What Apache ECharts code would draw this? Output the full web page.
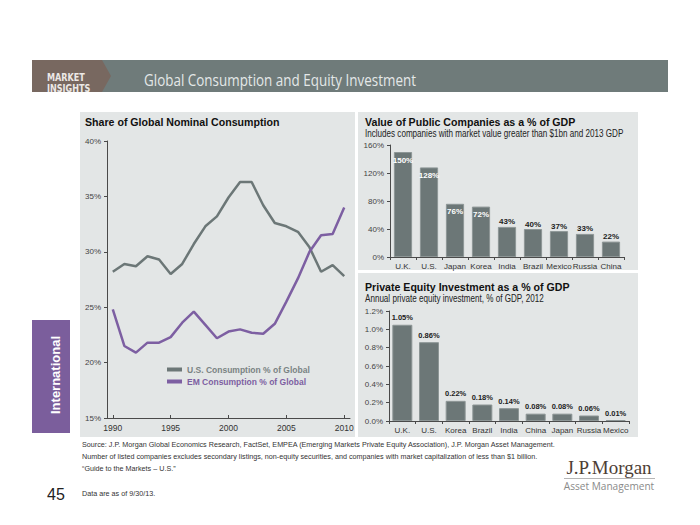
<!DOCTYPE html>
<html>
<head>
<meta charset="utf-8">
<style>
  html, body { margin: 0; padding: 0; background: #ffffff; }
  #chart { width: 700px; height: 525px; }
</style>
<script src="https://cdn.jsdelivr.net/npm/echarts@6/dist/echarts.min.js"></script>
</head>
<body>
<div id="chart"></div>
<script>
// ---- Data ----
const years = ['1990','1991','1992','1993','1994','1995','1996','1997','1998','1999','2000',
               '2001','2002','2003','2004','2005','2006','2007','2008','2009','2010'];
const usShare = [28.2, 28.9, 28.7, 29.6, 29.3, 28.0, 28.9, 30.7, 32.3, 33.2, 34.9,
                 36.3, 36.3, 34.2, 32.6, 32.3, 31.8, 30.4, 28.2, 28.8, 27.8];
const emShare = [24.8, 21.5, 20.9, 21.8, 21.8, 22.3, 23.6, 24.6, 23.4, 22.2, 22.8,
                 23.0, 22.7, 22.6, 23.5, 25.5, 27.6, 30.0, 31.5, 31.6, 34.0];
const usName = 'U.S. Consumption % of Global';
const emName = 'EM Consumption % of Global';

const publicCountries = ['U.K.','U.S.','Japan','Korea','India','Brazil','Mexico','Russia','China'];
const publicValues = [150, 128, 76, 72, 43, 40, 37, 33, 22];

const peCountries = ['U.K.','U.S.','Korea','Brazil','India','China','Japan','Russia','Mexico'];
const peValues = [1.05, 0.86, 0.22, 0.18, 0.14, 0.08, 0.08, 0.06, 0.01];

const footnotes = [
  'Source: J.P. Morgan Global Economics Research, FactSet, EMPEA (Emerging Markets Private Equity Association), J.P. Morgan Asset Management.',
  'Number of listed companies excludes secondary listings, non-equity securities, and companies with market capitalization of less than $1 billion.',
  '\u201cGuide to the Markets \u2013 U.S.\u201d'
];
const dataNote = 'Data are as of 9/30/13.';

// ---- Styles ----
const AR = '"Liberation Sans", Arial, Helvetica, sans-serif';
const GRAY = '#6c7777';
const PURPLE = '#7d5fa2';
const AXIS = '#4a4a4a';
const PANEL = '#e3e6e6';

function txt(x, y, text, font, fill, align, sx) {
  return {
    type: 'text', z: 5, x: x, y: y, scaleX: sx || 1,
    style: { x: 0, y: 0, text: text, font: font, fill: fill, align: align || 'left', verticalAlign: 'middle' }
  };
}

const chart = echarts.init(document.getElementById('chart'), null, { renderer: 'svg' });

const graphics = [
  // header band
  { type: 'rect', z: -20, shape: { x: 100, y: 60, width: 568, height: 32 }, style: { fill: '#6f7b7a' } },
  { type: 'polygon', z: -19, shape: { points: [[32,60],[102,60],[111,76],[102,92],[32,92]] }, style: { fill: '#786860' } },
  txt(47, 77, 'MARKET', 'bold 10px "DejaVu Sans Condensed", "Liberation Sans", sans-serif', '#ece8e6', 'left', 0.9),
  txt(47, 88, 'INSIGHTS', 'bold 10px "DejaVu Sans Condensed", "Liberation Sans", sans-serif', '#ece8e6', 'left', 0.9),
  txt(144, 80, 'Global Consumption and Equity Investment', '16px "Open Sans", "Noto Sans", sans-serif', '#e4e8e8', 'left', 0.84),
  // panels
  { type: 'rect', z: -20, shape: { x: 80, y: 112, width: 275, height: 325 }, style: { fill: PANEL } },
  { type: 'rect', z: -20, shape: { x: 358, y: 112, width: 280, height: 158 }, style: { fill: PANEL } },
  { type: 'rect', z: -20, shape: { x: 358, y: 273, width: 280, height: 164 }, style: { fill: PANEL } },
  // panel titles
  txt(85, 122, 'Share of Global Nominal Consumption', 'bold 11px ' + AR, '#111111', 'left', 0.965),
  txt(365, 122, 'Value of Public Companies as a % of GDP', 'bold 11px ' + AR, '#111111', 'left', 0.965),
  txt(365, 134, 'Includes companies with market value greater than $1bn and 2013 GDP', '10px ' + AR, '#222222', 'left', 0.81),
  txt(365, 287, 'Private Equity Investment as a % of GDP', 'bold 11px ' + AR, '#111111', 'left', 0.965),
  txt(365, 299, 'Annual private equity investment, % of GDP, 2012', '10px ' + AR, '#222222', 'left', 0.81),
  // side tab
  { type: 'rect', z: -20, shape: { x: 32, y: 320, width: 38, height: 113 }, style: { fill: '#7b5e9c' } },
  { type: 'text', z: 5, x: 55, y: 375, rotation: Math.PI / 2,
    style: { x: 0, y: 0, text: 'International', font: 'bold 13px ' + AR, fill: '#ffffff', align: 'center', verticalAlign: 'middle' } },
  // footer
  txt(82, 444, footnotes[0], '8px ' + AR, '#333333', 'left', 0.9),
  txt(82, 456, footnotes[1], '8px ' + AR, '#333333', 'left', 0.9),
  txt(82, 468, footnotes[2], '8px ' + AR, '#333333', 'left', 0.9),
  txt(82, 493, dataNote, '8px ' + AR, '#333333', 'left', 0.9),
  txt(56, 494, '45', '16px ' + AR, '#222222', 'center'),
  // logo
  txt(609, 467, 'J.P.Morgan', '19px "Liberation Serif", "DejaVu Serif", serif', '#4e3e36', 'center'),
  { type: 'rect', z: 5, shape: { x: 564, y: 478, width: 91, height: 1 }, style: { fill: '#b5b5b5' } },
  txt(609, 486, 'Asset Management', '11px "Open Sans", "Noto Sans", sans-serif', '#8a8a8a', 'center', 0.92)
];

const option = {
  backgroundColor: '#ffffff',
  animation: false,
  textStyle: { fontFamily: AR },
  graphic: graphics,
  legend: {
    left: 162, top: 360, orient: 'vertical', itemGap: 3,
    itemWidth: 15, itemHeight: 4, icon: 'rect',
    textStyle: { fontSize: 8.5, fontWeight: 'bold', fontFamily: AR },
    data: [
      { name: usName, textStyle: { color: '#7a8383' } },
      { name: emName, textStyle: { color: PURPLE } }
    ]
  },
  grid: [
    { left: 107, top: 141, width: 243, height: 277 },
    { left: 390, top: 145, width: 234, height: 112 },
    { left: 389, top: 311, width: 240, height: 110 }
  ],
  xAxis: [
    {
      gridIndex: 0, type: 'category', data: years, boundaryGap: true,
      axisLine: { lineStyle: { color: AXIS, width: 1 } },
      axisTick: { show: true, inside: true, length: 3, alignWithLabel: true, interval: 4, lineStyle: { color: AXIS } },
      axisLabel: { interval: 4, fontSize: 8.5, color: '#333', margin: 5 }
    },
    {
      gridIndex: 1, type: 'category', data: publicCountries,
      axisLine: { lineStyle: { color: AXIS } },
      axisTick: { show: true, length: 3, lineStyle: { color: AXIS } },
      axisLabel: { fontSize: 8, color: '#333', margin: 5, interval: 0 }
    },
    {
      gridIndex: 2, type: 'category', data: peCountries,
      axisLine: { lineStyle: { color: AXIS } },
      axisTick: { show: true, length: 3, lineStyle: { color: AXIS } },
      axisLabel: { fontSize: 8, color: '#333', margin: 5, interval: 0 }
    }
  ],
  yAxis: [
    {
      gridIndex: 0, type: 'value', min: 15, max: 40, interval: 5,
      axisLine: { show: true, lineStyle: { color: AXIS } },
      axisTick: { show: true, length: 3, lineStyle: { color: AXIS } },
      splitLine: { show: false },
      axisLabel: { formatter: '{value}%', fontSize: 8, color: '#444', margin: 6 }
    },
    {
      gridIndex: 1, type: 'value', min: 0, max: 160, interval: 40,
      axisLine: { show: true, lineStyle: { color: AXIS } },
      axisTick: { show: true, length: 3, lineStyle: { color: AXIS } },
      splitLine: { show: false },
      axisLabel: { formatter: '{value}%', fontSize: 8, color: '#444', margin: 6 }
    },
    {
      gridIndex: 2, type: 'value', min: 0, max: 1.2, interval: 0.2,
      axisLine: { show: true, lineStyle: { color: AXIS } },
      axisTick: { show: true, length: 3, lineStyle: { color: AXIS } },
      splitLine: { show: false },
      axisLabel: { formatter: v => v.toFixed(1) + '%', fontSize: 8, color: '#444', margin: 6 }
    }
  ],
  series: [
    {
      name: usName, type: 'line', xAxisIndex: 0, yAxisIndex: 0, data: usShare,
      symbol: 'none', lineStyle: { color: GRAY, width: 2.5 }, itemStyle: { color: GRAY }
    },
    {
      name: emName, type: 'line', xAxisIndex: 0, yAxisIndex: 0, data: emShare,
      symbol: 'none', lineStyle: { color: PURPLE, width: 2.5 }, itemStyle: { color: PURPLE }
    },
    {
      type: 'bar', xAxisIndex: 1, yAxisIndex: 1, barCategoryGap: '30%',
      itemStyle: { color: GRAY, borderColor: '#8d9696', borderWidth: 1 },
      data: publicValues.map(v => ({
        value: v,
        label: v >= 70
          ? { show: true, position: 'insideTop', distance: 4, color: '#ffffff' }
          : { show: true, position: 'top', distance: 1, color: '#222222' }
      })),
      label: { show: true, formatter: '{c}%', fontSize: 8, fontWeight: 'bold' }
    },
    {
      type: 'bar', xAxisIndex: 2, yAxisIndex: 2, barCategoryGap: '25%',
      itemStyle: { color: GRAY, borderColor: '#8d9696', borderWidth: 1 },
      data: peValues,
      label: { show: true, position: 'top', distance: 3, fontSize: 7.5, fontWeight: 'bold', color: '#222222',
               formatter: p => p.value.toFixed(2) + '%' }
    }
  ]
};

chart.setOption(option);
</script>
</body>
</html>
